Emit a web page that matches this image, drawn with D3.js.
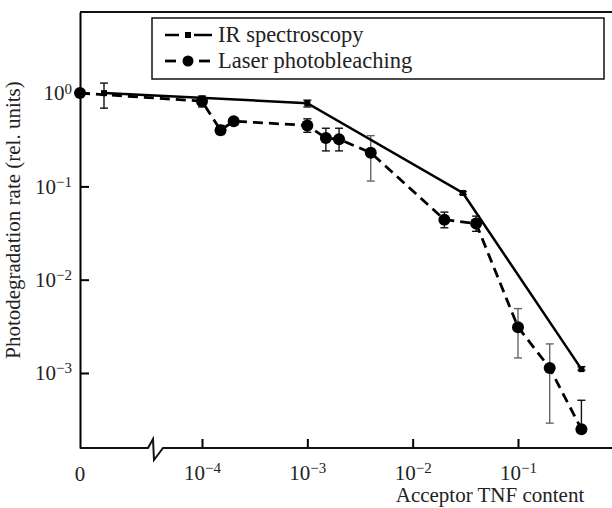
<!DOCTYPE html>
<html>
<head>
<meta charset="utf-8">
<script src="https://cdn.jsdelivr.net/npm/d3@7"></script>
<style>
  body { margin: 0; background: #fff; }
  text { font-family: "Liberation Serif", "DejaVu Serif", serif; fill: #222; }
</style>
</head>
<body>
<div id="main"></div>
<script>
// acceptor content (0 = undoped, 1e-5 = the point just right of 0 before the axis break)
var irX = [1e-5, 1e-3, 0.03, 0.4]
var irY = [1.0, 0.78, 0.085, 0.0011]
var irLo = [0.69, 0.71, 0.082, 0.00107]
var irHi = [1.28, 0.84, 0.088, 0.00117]

var laserX = [0, 1e-4, 1.5e-4, 2e-4, 1e-3, 1.5e-3, 2e-3, 4e-3, 0.02, 0.04, 0.1, 0.2, 0.4]
var laserY = [1.0, 0.82, 0.40, 0.50, 0.45, 0.33, 0.32, 0.23, 0.044, 0.040, 0.0031, 0.00113, 0.00025]
var laserLo = [null, 0.71, 0.36, null, 0.38, 0.24, 0.24, 0.114, 0.036, 0.033, 0.00145, 0.00029, 0.00025]
var laserHi = [null, 0.93, 0.45, null, 0.53, 0.42, 0.42, 0.35, 0.053, 0.048, 0.0049, 0.00205, 0.00051]

var xTicks = [1e-4, 1e-3, 1e-2, 1e-1]
var xTickExp = ["\u22124", "\u22123", "\u22122", "\u22121"]
var yTicks = [1, 1e-1, 1e-2, 1e-3]
var yTickExp = ["0", "\u22121", "\u22122", "\u22123"]

var legendNames = ["IR spectroscopy", "Laser photobleaching"]

var dimensions = {
  width: 612,
  height: 508,
  margin: { top: 12, bottom: 60, right: 0, left: 80 }
}
dimensions.boundedWidth = dimensions.width - dimensions.margin.left - dimensions.margin.right
dimensions.boundedHeight = dimensions.height - dimensions.margin.top - dimensions.margin.bottom

var svg = d3.select("#main")
  .append("svg")
  .attr("width", dimensions.width)
  .attr("height", dimensions.height)

var SVG = svg.append("g")
  .attr("transform", "translate(" + dimensions.margin.left + "," + dimensions.margin.top + ")")

// x: short linear stretch for 0 before the break, log scale after it
var xPre = d3.scaleLinear().domain([0, 3e-5]).range([0, 72])
var xLog = d3.scaleLog().domain([1e-4, 1e-1]).range([122, 438])
function x(v) { return v < 5e-5 ? xPre(v) : xLog(v) }

var y = d3.scaleLog()
  .domain([1.57e-4, 7.4])
  .range([dimensions.boundedHeight, 0])

// y axis
var yAxis = SVG.append("g")
  .call(d3.axisLeft(y).tickValues(yTicks).tickSize(-9).tickSizeOuter(0).tickPadding(8))
yAxis.select(".domain").attr("stroke-width", 2)
yAxis.selectAll(".tick line").attr("stroke-width", 2)
yAxis.selectAll(".tick text")
  .style("font-size", "21px")
  .style("font-family", "Liberation Serif")
  .attr("fill", "#222")
  .text("")
  .each(function(d, i) {
    var t = d3.select(this)
    t.append("tspan").text("10")
    t.append("tspan").attr("dy", "-0.45em").style("font-size", "15px").text(yTickExp[i])
  })

// x axis ticks (log part)
var xAxis = SVG.append("g")
  .attr("transform", "translate(0," + dimensions.boundedHeight + ")")
  .call(d3.axisBottom(xLog).tickValues(xTicks).tickSize(-9).tickSizeOuter(0).tickPadding(17))
xAxis.select(".domain").remove()
xAxis.selectAll(".tick line").attr("stroke-width", 2)
xAxis.selectAll(".tick text")
  .style("font-size", "21px")
  .style("font-family", "Liberation Serif")
  .attr("fill", "#222")
  .text("")
  .each(function(d, i) {
    var t = d3.select(this)
    t.append("tspan").text("10")
    t.append("tspan").attr("dy", "-0.45em").style("font-size", "15px").text(xTickExp[i])
  })

SVG.append("text")
  .attr("x", xPre(0))
  .attr("y", dimensions.boundedHeight + 33)
  .attr("text-anchor", "middle")
  .style("font-size", "21px")
  .text("0")

// bottom line with the axis break, plus top frame line
var H = dimensions.boundedHeight
SVG.append("path")
  .attr("d", "M0," + H + "H68l5,-9l1,21l9,-12H" + dimensions.boundedWidth)
  .attr("fill", "none")
  .attr("stroke", "#111")
  .attr("stroke-width", 2)
SVG.append("line")
  .attr("x1", 0).attr("x2", dimensions.boundedWidth)
  .attr("y1", 0).attr("y2", 0)
  .attr("stroke", "#111")
  .attr("stroke-width", 2)

// axis titles
SVG.append("text")
  .attr("transform", "translate(-60," + 208 + ") rotate(-90)")
  .attr("text-anchor", "middle")
  .style("font-size", "21px")
  .text("Photodegradation rate (rel. units)")

SVG.append("text")
  .attr("x", 410)
  .attr("y", 490)
  .attr("text-anchor", "middle")
  .style("font-size", "21px")
  .text("Acceptor TNF content")

// series data
var ir = irX.map(function(v, i) { return { x: v, y: irY[i], lo: irLo[i], hi: irHi[i] } })
var laser = laserX.map(function(v, i) { return { x: v, y: laserY[i], lo: laserLo[i], hi: laserHi[i] } })

var line = d3.line()
  .x(function(d) { return x(d.x) })
  .y(function(d) { return y(d.y) })

function errorBars(data) {
  var g = SVG.append("g")
  data.filter(function(d) { return d.lo != null }).forEach(function(d) {
    var cx = x(d.x), y1 = y(d.hi), y2 = y(d.lo)
    var col = (y2 - y1) > 40 ? "#666" : "#111"
    g.append("line").attr("x1", cx).attr("x2", cx).attr("y1", y1).attr("y2", y2)
      .attr("stroke", col).attr("stroke-width", 1.4)
    g.append("line").attr("x1", cx - 4).attr("x2", cx + 4).attr("y1", y1).attr("y2", y1)
      .attr("stroke", col).attr("stroke-width", 1.4)
    g.append("line").attr("x1", cx - 4).attr("x2", cx + 4).attr("y1", y2).attr("y2", y2)
      .attr("stroke", col).attr("stroke-width", 1.4)
  })
}

errorBars(ir)
errorBars(laser)

SVG.append("path")
  .datum(laser)
  .attr("d", line)
  .attr("fill", "none")
  .attr("stroke", "#000")
  .attr("stroke-width", 2.8)
  .attr("stroke-dasharray", "10,6")

SVG.append("path")
  .datum(ir)
  .attr("d", line)
  .attr("fill", "none")
  .attr("stroke", "#000")
  .attr("stroke-width", 2.5)

SVG.append("g")
  .selectAll("rect")
  .data(ir)
  .enter()
  .append("rect")
  .attr("x", function(d) { return x(d.x) - 3 })
  .attr("y", function(d) { return y(d.y) - 3 })
  .attr("width", 6)
  .attr("height", 6)
  .attr("fill", "#000")

SVG.append("g")
  .selectAll("circle")
  .data(laser)
  .enter()
  .append("circle")
  .attr("cx", function(d) { return x(d.x) })
  .attr("cy", function(d) { return y(d.y) })
  .attr("r", 6)
  .attr("fill", "#000")

// legend
var legend = svg.append("g").attr("transform", "translate(152,18)")
legend.append("rect")
  .attr("width", 452)
  .attr("height", 61)
  .attr("fill", "#fff")
  .attr("stroke", "#111")
  .attr("stroke-width", 1.5)

var row1 = legend.append("g").attr("transform", "translate(0,17)")
row1.append("line").attr("x1", 13).attr("x2", 27).attr("stroke", "#000").attr("stroke-width", 2.5)
row1.append("rect").attr("x", 33).attr("y", -3).attr("width", 6).attr("height", 6).attr("fill", "#000")
row1.append("line").attr("x1", 42).attr("x2", 60).attr("stroke", "#000").attr("stroke-width", 2.5)
row1.append("text").attr("x", 66).attr("y", 7).style("font-size", "22.5px").text(legendNames[0])

var row2 = legend.append("g").attr("transform", "translate(0,43)")
row2.append("line").attr("x1", 13).attr("x2", 24).attr("stroke", "#000").attr("stroke-width", 2.8)
row2.append("circle").attr("cx", 36).attr("r", 5.5).attr("fill", "#000")
row2.append("line").attr("x1", 47).attr("x2", 58).attr("stroke", "#000").attr("stroke-width", 2.8)
row2.append("text").attr("x", 66).attr("y", 7).style("font-size", "22.5px").text(legendNames[1])
</script>
</body>
</html>
